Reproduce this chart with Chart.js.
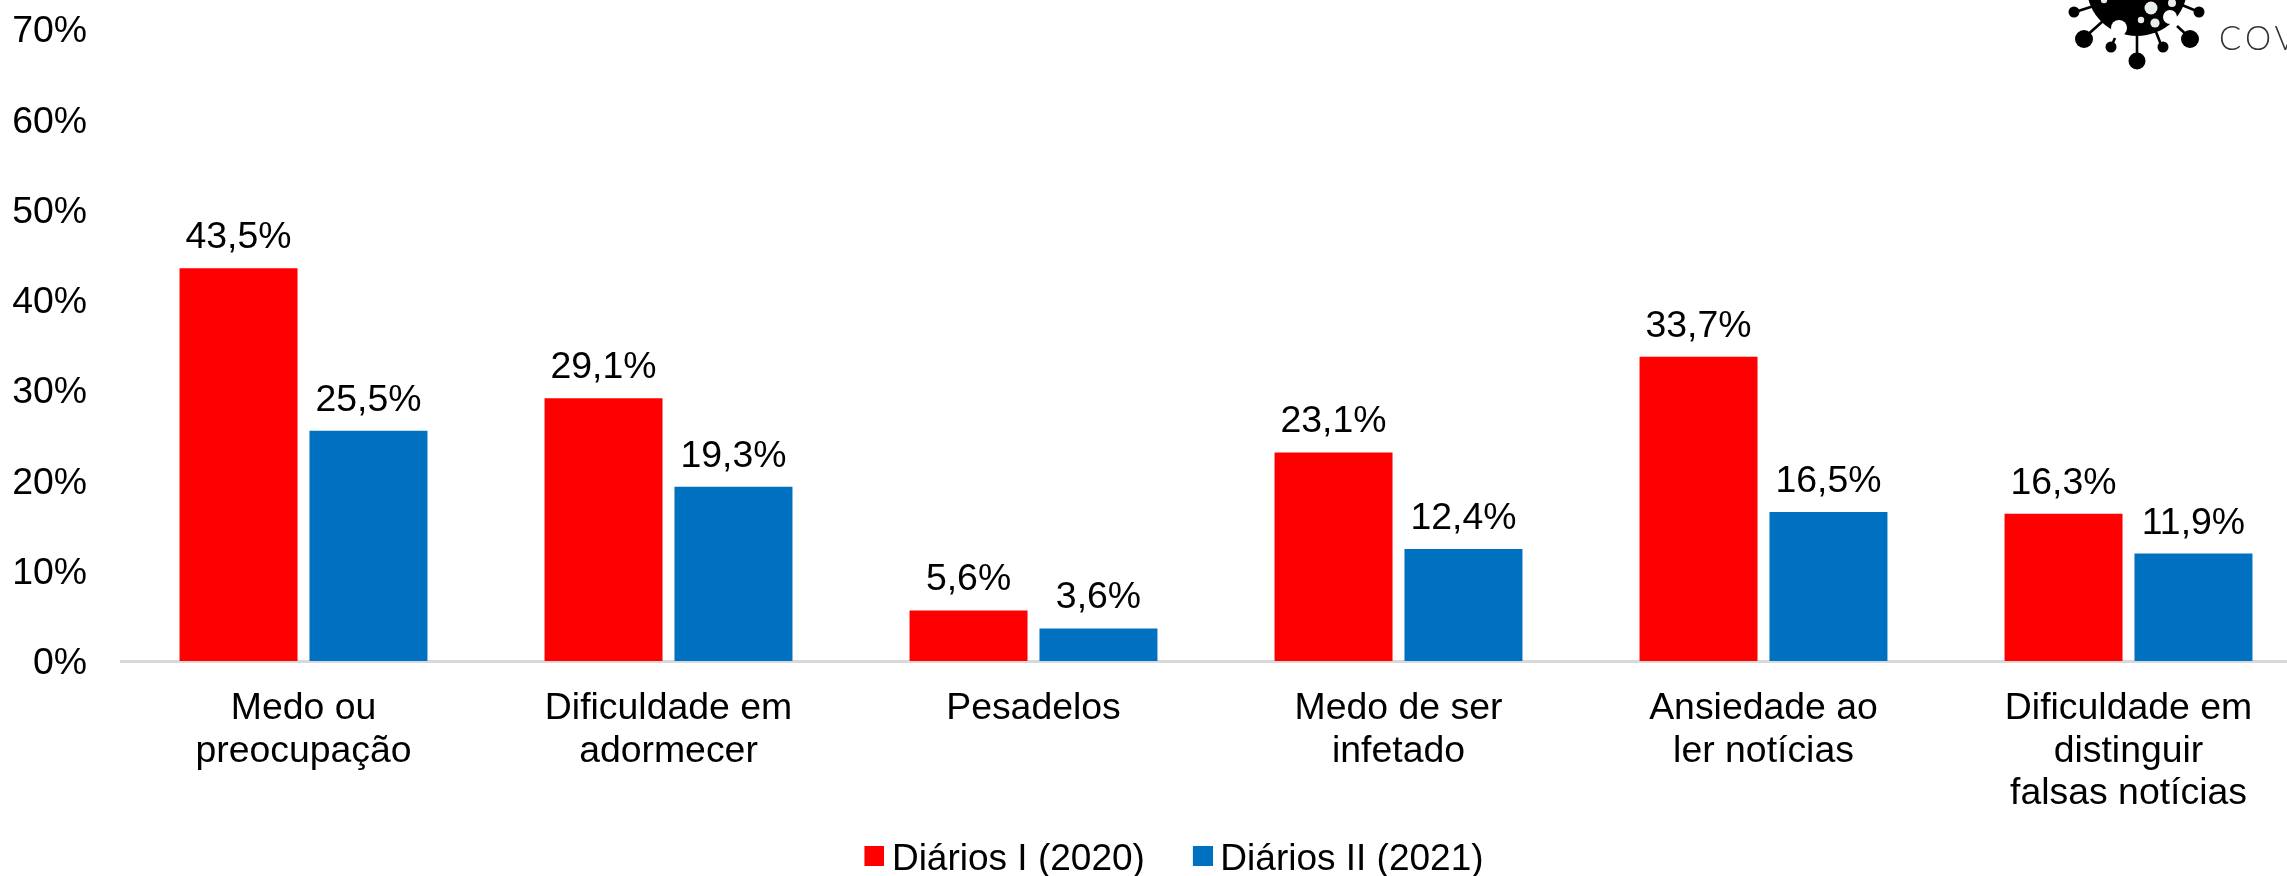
<!DOCTYPE html>
<html><head><meta charset="utf-8">
<script src="https://cdn.jsdelivr.net/npm/chart.js@4"></script>
<style>
html,body{margin:0;padding:0;background:#fff;width:2287px;height:876px;overflow:hidden}
#wrap{position:relative;width:2287px;height:876px;overflow:hidden}
canvas{position:absolute;left:0;top:0}
svg{position:absolute;left:1987px;top:0}
</style></head><body>
<div id="wrap">
<canvas id="c" width="2311" height="876" style="width:2311px;height:876px"></canvas>
<svg width="300" height="90" viewBox="0 0 300 90">
  <g stroke="#000" stroke-width="2.6" fill="#000">
    <line x1="110" y1="5" x2="88" y2="12"/><line x1="116" y1="21" x2="97" y2="38"/>
    <line x1="128" y1="38" x2="124" y2="47"/><line x1="150" y1="30" x2="150" y2="60"/>
    <line x1="169" y1="32" x2="175" y2="47"/><line x1="190" y1="26" x2="203" y2="38"/>
    <line x1="195" y1="5" x2="212" y2="12"/>
  </g>
  <g fill="#000">
    <ellipse cx="150" cy="-12" rx="50" ry="48"/>
    <circle cx="87" cy="12" r="5.5"/><circle cx="97" cy="39" r="9"/><circle cx="124" cy="47" r="5.5"/>
    <circle cx="150" cy="61" r="8.5"/><circle cx="176" cy="47" r="5.5"/><circle cx="203" cy="39" r="9"/><circle cx="212" cy="12" r="5.5"/>
  </g>
  <g fill="#fff"><circle cx="132" cy="28" r="8"/><circle cx="183" cy="17" r="7"/></g>
  <g fill="#e8eeee"><circle cx="164" cy="8" r="6.5"/><circle cx="185" cy="3" r="4"/><circle cx="154" cy="20" r="3.2"/><circle cx="168" cy="23" r="4.6"/><circle cx="117" cy="0" r="3.2"/></g>
  <text x="232" y="50" font-family="Lato,'Open Sans',sans-serif" font-weight="300" font-size="33" letter-spacing="4" fill="#333">COV</text>
</svg>
</div>
<script>
const categories = [["Medo ou","preocupação"],["Dificuldade em","adormecer"],["Pesadelos"],["Medo de ser","infetado"],["Ansiedade ao","ler notícias"],["Dificuldade em","distinguir","falsas notícias"]];
const diariosI = [43.5,29.1,5.6,23.1,33.7,16.3];
const diariosII = [25.5,19.3,3.6,12.4,16.5,11.9];
const seriesNames = ["Diários I (2020)","Diários II (2021)"];
const seriesColors = ["#ff0000","#0070c0"];
const FONT = "'Liberation Sans', Arial, sans-serif";
const SIZE = 37.4;
const LEGEND_SIZE = 37;

function swatch(color){
  const s=document.createElement('canvas'); s.width=24; s.height=28;
  const x=s.getContext('2d'); x.fillStyle=color; x.fillRect(4,0,20,20); return s;
}
const valueLabels = {
  id:'valueLabels',
  afterDatasetsDraw(chart){
    const ctx=chart.ctx; ctx.save();
    ctx.font=`${SIZE}px ${FONT}`; ctx.fillStyle='#000'; ctx.textAlign='center'; ctx.textBaseline='alphabetic';
    chart.data.datasets.forEach((d,i)=>{
      chart.getDatasetMeta(i).data.forEach((el,j)=>{
        ctx.fillText(d.data[j].toFixed(1).replace('.',',')+'%', el.x, el.y-20);
      });
    });
    ctx.restore();
  }
};
const legendPlace = {
  id:'legendPlace',
  afterLayout(chart){
    const l=chart.legend, h=l.bottom-l.top;
    l.left+=22; l.right+=22;
    l.top=860-55-LEGEND_SIZE/2; l.bottom=l.top+h;
  }
};
new Chart(document.getElementById('c'),{
  type:'bar',
  data:{labels:categories,datasets:[
    {label:seriesNames[0],data:diariosI,backgroundColor:seriesColors[0],pointStyle:swatch(seriesColors[0])},
    {label:seriesNames[1],data:diariosII,backgroundColor:seriesColors[1],pointStyle:swatch(seriesColors[1])}
  ]},
  plugins:[valueLabels,legendPlace],
  options:{
    responsive:false,animation:false,
    layout:{padding:{top:29,left:0,right:0,bottom:-53}},
    datasets:{bar:{categoryPercentage:0.712,barPercentage:0.908}},
    plugins:{
      tooltip:{enabled:false},
      legend:{position:'bottom',labels:{
        usePointStyle:true,pointStyleWidth:2,boxWidth:2,boxHeight:20,padding:55,color:'#000',
        font:{family:FONT,size:LEGEND_SIZE},
        generateLabels(chart){return chart.data.datasets.map((d,i)=>({text:d.label,pointStyle:d.pointStyle,fillStyle:d.backgroundColor,strokeStyle:d.backgroundColor,lineWidth:0,datasetIndex:i,hidden:false}));}
      }}
    },
    scales:{
      x:{
        grid:{display:false},
        border:{display:true,color:'#d9d9d9',width:3},
        ticks:{color:'#000',font:{family:FONT,size:SIZE,lineHeight:1.13},padding:19,maxRotation:0,autoSkip:false},
        afterFit(s){s.height=166;}
      },
      y:{
        min:0,max:70,
        grid:{display:false,drawTicks:false},
        border:{display:false},
        ticks:{stepSize:10,color:'#000',font:{family:FONT,size:SIZE},padding:34,labelOffset:3,callback:v=>v+'%'},
        afterFit(s){s.width=121;s.paddingTop=0;s.paddingBottom=0;}
      }
    }
  }
});
</script>
</body></html>
